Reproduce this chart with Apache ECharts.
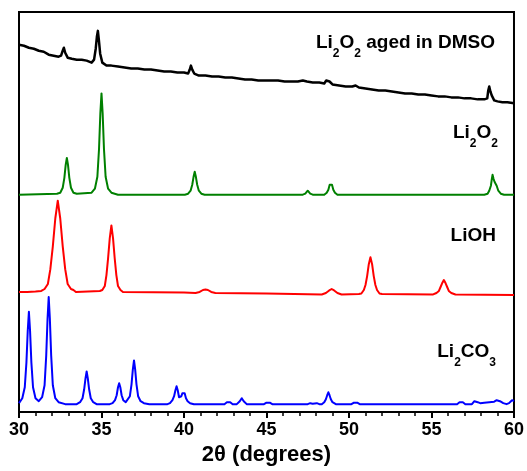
<!DOCTYPE html>
<html>
<head>
<meta charset="utf-8">
<script src="https://cdn.jsdelivr.net/npm/echarts@6/dist/echarts.min.js"></script>
<style>
  html, body { margin: 0; padding: 0; background: #fff; }
  #chart { width: 527px; height: 471px; }
</style>
</head>
<body>
<div id="chart"></div>
<script>
// x ticks (2θ, degrees)
const xMin = 30
const xMax = 60
const xStep = 5

// intensities are stacked with offsets already in them (arbitrary units)
const agedDMSO = [
  [30, 370], [30.3, 369], [30.6, 367], [30.9, 366], [31.2, 364], [31.5, 363], [31.8, 360],
  [32.1, 359], [32.4, 358], [32.55, 359], [32.65, 364], [32.72, 367], [32.8, 362],
  [32.95, 357], [33.2, 356], [33.5, 355], [33.8, 355], [34.1, 354], [34.4, 352],
  [34.55, 355], [34.65, 366], [34.72, 378], [34.78, 384], [34.84, 375], [34.92, 361],
  [35.05, 352], [35.3, 349], [35.6, 349], [36, 348], [36.4, 347], [36.8, 346], [37.2, 346],
  [37.6, 345], [38, 345], [38.4, 344], [38.8, 343], [39.2, 343], [39.6, 342], [40, 342],
  [40.25, 341], [40.35, 345], [40.42, 349], [40.5, 345], [40.62, 341], [40.9, 339],
  [41.3, 339], [41.7, 338], [42.1, 338], [42.5, 337], [42.9, 337], [43.3, 336],
  [43.7, 335], [44.1, 335], [44.5, 334], [44.9, 334], [45.3, 334], [45.7, 334],
  [46.1, 333], [46.5, 333], [46.9, 333], [47.2, 334], [47.3, 335], [47.45, 333],
  [47.8, 332], [48.2, 332], [48.5, 331], [48.62, 334], [48.72, 336], [48.82, 333],
  [49.0, 330], [49.4, 329], [49.8, 328], [50.2, 328], [50.4, 329], [50.6, 327],
  [51, 326], [51.4, 325], [51.8, 324], [52.2, 324], [52.6, 323], [53, 322], [53.4, 321],
  [53.8, 321], [54.2, 320], [54.6, 320], [55, 319], [55.4, 318], [55.8, 318], [56.2, 317],
  [56.6, 317], [57, 316], [57.4, 316], [57.8, 315], [58.2, 315], [58.38, 316],
  [58.44, 324], [58.5, 328], [58.57, 323], [58.65, 319], [58.8, 314], [59.0, 313],
  [59.3, 312], [59.6, 312], [60, 311]
]

const li2o2 = [
  [30, 219], [32.3, 220], [32.5, 221], [32.65, 226], [32.75, 236], [32.83, 249],
  [32.9, 256], [32.97, 249], [33.05, 236], [33.15, 226], [33.3, 221], [33.5, 220],
  [34.4, 221], [34.6, 225], [34.75, 237], [34.85, 265], [34.93, 301], [35.0, 321],
  [35.07, 301], [35.15, 265], [35.25, 237], [35.4, 225], [35.6, 221], [36.0, 219],
  [40.05, 219], [40.25, 220], [40.4, 223], [40.5, 229], [40.58, 237], [40.65, 242],
  [40.72, 237], [40.8, 229], [40.9, 223], [41.05, 220], [41.25, 219], [47.2, 219],
  [47.35, 220], [47.43, 222], [47.5, 223], [47.57, 222], [47.65, 220], [47.8, 219],
  [48.5, 219], [48.65, 221], [48.75, 224], [48.83, 229], [48.9, 231], [48.97, 229],
  [49.05, 224], [49.15, 221], [49.3, 219], [58.2, 219], [58.4, 220], [58.5, 223],
  [58.6, 228], [58.65, 234], [58.7, 239], [58.76, 235], [58.82, 232], [58.88, 231],
  [58.95, 228], [59.05, 223], [59.2, 220], [59.4, 219], [60, 219]
]

const lioh = [
  [30, 121], [30.5, 121], [31, 121.5], [31.35, 122], [31.55, 124], [31.75, 129],
  [31.9, 144], [32.05, 167], [32.2, 195], [32.35, 213], [32.5, 195], [32.65, 167],
  [32.8, 144], [32.95, 129], [33.15, 124], [33.3, 123], [33.45, 121], [34.9, 122],
  [35.05, 123], [35.2, 127], [35.3, 138], [35.4, 155], [35.5, 175], [35.6, 188],
  [35.7, 175], [35.8, 155], [35.9, 138], [36.0, 127], [36.15, 123], [36.3, 121],
  [40, 120.5], [40.7, 120], [40.95, 121], [41.15, 123], [41.3, 123.5], [41.45, 123],
  [41.65, 121], [41.9, 120], [45, 119.5], [48.35, 118.5], [48.6, 120], [48.8, 122.5],
  [48.95, 124], [49.1, 122.5], [49.3, 120], [49.55, 118.5], [50.6, 119], [50.75, 119.5],
  [50.9, 123], [51.0, 128], [51.1, 137], [51.2, 149], [51.3, 156], [51.4, 149],
  [51.5, 137], [51.6, 128], [51.7, 123], [51.85, 119.5], [52.0, 119], [55.1, 118.5],
  [55.3, 120], [55.45, 122], [55.55, 126], [55.65, 130], [55.75, 133], [55.85, 130],
  [55.95, 126], [56.05, 122], [56.2, 120], [56.45, 118.5], [60, 118]
]

const li2co3 = [
  [30, 9], [30.2, 14], [30.35, 25], [30.45, 50], [30.53, 82], [30.6, 101], [30.67, 82],
  [30.75, 50], [30.85, 25], [31.0, 14], [31.2, 11], [31.4, 15], [31.55, 27],
  [31.65, 57], [31.73, 94], [31.8, 116], [31.87, 94], [31.95, 57], [32.05, 27],
  [32.2, 14], [32.4, 10], [32.8, 8], [33.5, 8], [33.7, 10], [33.85, 14], [33.95, 23],
  [34.03, 34], [34.1, 41], [34.17, 34], [34.25, 23], [34.35, 14], [34.5, 10],
  [34.7, 8], [35.5, 8], [35.67, 9], [35.82, 12], [35.92, 17], [36.0, 25], [36.07, 29],
  [36.14, 25], [36.22, 17], [36.32, 12], [36.47, 10], [36.57, 10], [36.72, 16],
  [36.82, 28], [36.9, 43], [36.97, 52], [37.04, 43], [37.12, 28], [37.22, 16],
  [37.37, 11], [37.57, 9], [37.9, 8], [39.0, 8], [39.15, 9], [39.3, 12], [39.4, 16],
  [39.48, 22], [39.55, 26], [39.62, 22], [39.7, 15], [39.77, 13], [39.84, 16],
  [39.9, 19], [39.97, 21], [40.04, 19], [40.12, 14], [40.22, 11], [40.37, 9],
  [40.6, 8], [42.45, 8], [42.6, 10], [42.7, 11], [42.8, 10], [42.95, 8], [43.2, 8],
  [43.38, 11], [43.5, 14], [43.62, 11], [43.8, 8], [44.85, 8], [45.0, 9.5], [45.1, 10],
  [45.2, 9.5], [45.35, 8], [47.5, 8], [47.65, 9], [47.8, 8.5], [48.05, 9], [48.2, 8],
  [48.35, 8], [48.5, 10], [48.6, 13], [48.68, 17], [48.75, 20], [48.82, 17], [48.9, 13],
  [49.0, 10], [49.2, 8], [50.15, 8], [50.3, 9.5], [50.4, 10], [50.5, 9.5], [50.65, 8],
  [56.55, 8], [56.7, 10], [56.8, 11], [56.9, 10], [57.05, 8], [57.45, 8], [57.6, 11],
  [57.7, 12], [57.8, 10], [57.95, 9], [58.2, 9.5], [58.5, 10], [58.8, 10.5],
  [58.95, 12], [59.05, 13], [59.15, 11], [59.35, 9], [59.55, 8], [59.7, 9], [59.8, 11],
  [59.88, 12], [59.95, 11.5], [60, 11]
]

const myChart = echarts.init(document.getElementById('chart'))

const font = 'Liberation Sans, Arial, sans-serif'
// label styles, subscript drops below the baseline
function richFor(color) {
  return {
    a: { fontFamily: font, fontWeight: 'bold', fontSize: 19, lineHeight: 22, color: color, verticalAlign: 'top' },
    s: { fontFamily: font, fontWeight: 'bold', fontSize: 12, lineHeight: 12, color: color, verticalAlign: 'top', padding: [15, 0, 0, 0] }
  }
}

function lineSeries(name, data, color, width) {
  return {
    name: name,
    type: 'line',
    data: data,
    symbol: 'none',
    smooth: false,
    lineStyle: { color: color, width: width, join: 'round' },
    animation: false
  }
}

const option = {
  animation: false,
  grid: {
    left: 19,
    right: 9,
    top: 12,
    bottom: 56,
    show: true,
    borderColor: '#000',
    borderWidth: 2,
    backgroundColor: 'transparent'
  },
  xAxis: {
    type: 'value',
    min: xMin,
    max: xMax,
    interval: xStep,
    name: '2θ (degrees)',
    nameLocation: 'middle',
    nameGap: 31,
    nameTextStyle: { fontFamily: font, fontWeight: 'bold', fontSize: 22, color: '#000' },
    axisLine: { show: true, lineStyle: { color: '#000', width: 2 } },
    axisTick: { show: true, inside: false, length: 6, lineStyle: { color: '#000', width: 2 } },
    minorTick: { show: true, splitNumber: 5, length: 4, lineStyle: { color: '#000', width: 1.5 } },
    axisLabel: { fontFamily: font, fontWeight: 'bold', fontSize: 18, color: '#000', margin: 9 },
    splitLine: { show: false }
  },
  yAxis: {
    type: 'value',
    min: 0,
    max: 403,
    show: false,
    splitLine: { show: false }
  },
  graphic: [
    {
      type: 'text', right: 32, top: 33,
      style: { text: '{a|Li}{s|2}{a|O}{s|2}{a| aged in DMSO}', rich: richFor('#000') }
    },
    {
      type: 'text', right: 29, top: 123,
      style: { text: '{a|Li}{s|2}{a|O}{s|2}', rich: richFor('#008000') }
    },
    {
      type: 'text', right: 31, top: 226,
      style: { text: '{a|LiOH}', rich: richFor('#ff0000') }
    },
    {
      type: 'text', right: 31, top: 342,
      style: { text: '{a|Li}{s|2}{a|CO}{s|3}', rich: richFor('#0000ff') }
    }
  ],
  series: [
    lineSeries('Li2O2 aged in DMSO', agedDMSO, '#000000', 2.5),
    lineSeries('Li2O2', li2o2, '#008000', 2),
    lineSeries('LiOH', lioh, '#ff0000', 2),
    lineSeries('Li2CO3', li2co3, '#0000ff', 2)
  ]
}

myChart.setOption(option)
</script>
</body>
</html>
